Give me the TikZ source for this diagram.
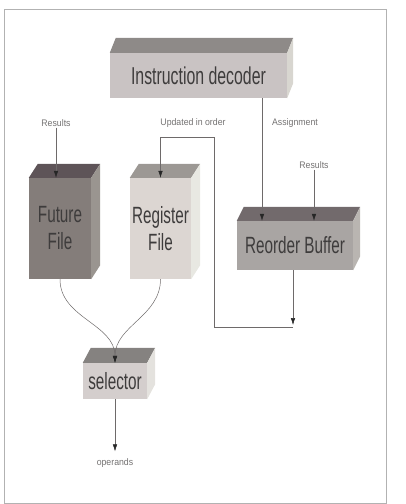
\documentclass[tikz,border=0pt]{standalone}
\usepackage{fontspec}
\setmainfont[FakeStretch=0.92]{Liberation Sans}
\newfontfamily\boxfont[FakeStretch=0.65]{Liberation Sans}
\usetikzlibrary{arrows.meta}
\definecolor{linegray}{HTML}{6E6A6A}
\definecolor{textgray}{HTML}{3E3C3C}
\definecolor{labelgray}{HTML}{747272}
\newcommand{\cubefaces}[5]{%
  \fill[#4] (#1.north west) -- ++(#2,#3) -- ([shift={(#2,#3)}]#1.north east) -- (#1.north east) -- cycle;
  \fill[#5] (#1.north east) -- ++(#2,#3) -- ([shift={(#2,#3)}]#1.south east) -- (#1.south east) -- cycle;}
\tikzset{
  front/.style={inner sep=0pt, align=center, text=textgray, font=\boxfont\fontsize{23.5}{27}\selectfont},
  lbl/.style={inner sep=1pt, text=labelgray, font=\fontsize{9.5}{11}\selectfont},
  conn/.style={draw=linegray, line width=0.5pt},
  arr/.style={conn, -{Latex[length=7pt,width=4.5pt,color=black!85]}}
}
\begin{document}
\begin{tikzpicture}[x=1pt,y=-1pt]
\useasboundingbox (0,0) rectangle (406,504);
\draw[draw=gray!60, line width=0.6pt] (4,9) rectangle (386,503);
\node[front, fill={rgb,255:red,201;green,195;blue,195}, minimum width=177pt, minimum height=45pt, font=\boxfont\fontsize{24.4}{27}\selectfont] (decoder) at (198.5,75.5) {Instruction decoder};
\cubefaces{decoder}{6}{-15}{fill={rgb,255:red,142;green,138;blue,136}}{fill={rgb,255:red,216;green,214;blue,208}}
\node[front, fill={rgb,255:red,132;green,125;blue,122}, minimum width=62pt, minimum height=101pt] (future) at (60,228.5) {Future\\File};
\cubefaces{future}{9}{-14}{fill={rgb,255:red,94;green,84;blue,88}}{fill={rgb,255:red,154;green,149;blue,144}}
\node[front, fill={rgb,255:red,220;green,214;blue,210}, minimum width=61pt, minimum height=101pt] (register) at (160.5,228.5) {Register\\File};
\cubefaces{register}{9}{-14}{fill={rgb,255:red,156;green,152;blue,148}}{fill={rgb,255:red,232;green,232;blue,226}}
\node[front, fill={rgb,255:red,169;green,165;blue,163}, minimum width=116pt, minimum height=49pt] (rob) at (295,245.5) {Reorder Buffer};
\cubefaces{rob}{7}{-14}{fill={rgb,255:red,114;green,106;blue,108}}{fill={rgb,255:red,185;green,181;blue,177}}
\node[front, fill={rgb,255:red,212;green,206;blue,205}, minimum width=64pt, minimum height=36pt] (selector) at (115,381) {selector};
\cubefaces{selector}{8}{-15}{fill={rgb,255:red,133;green,130;blue,128}}{fill={rgb,255:red,228;green,226;blue,222}}
\node[lbl] (resL) at (56,123) {Results};
\node[lbl] (updated) at (193,123) {Updated in order};
\node[lbl] (assign) at (295,123) {Assignment};
\node[lbl] (resR) at (314,165) {Results};
\node[lbl] (operands) at (115,463) {operands};
\coordinate (merge) at (293,327);
\coordinate (loopTop) at (214,137);
\draw[arr] (resL.south) -- (resL.south |- future.north);
\draw[arr] (resR.south) -- (resR.south |- rob.north);
\draw[arr] ([xshift=-33]rob.north |- decoder.south) -- ([xshift=-33]rob.north);
\draw[arr] (rob.south -| merge) -- ([yshift=2]merge);
\draw[arr] (merge) -| (loopTop) -| (register.north);
\draw[arr] (future.south) to[out=-90,in=90] (selector.north);
\draw[arr] (register.south) to[out=-90,in=90] (selector.north);
\draw[arr, shorten >=6pt] (selector.south) -- (operands.north);
\end{tikzpicture}
\end{document}
